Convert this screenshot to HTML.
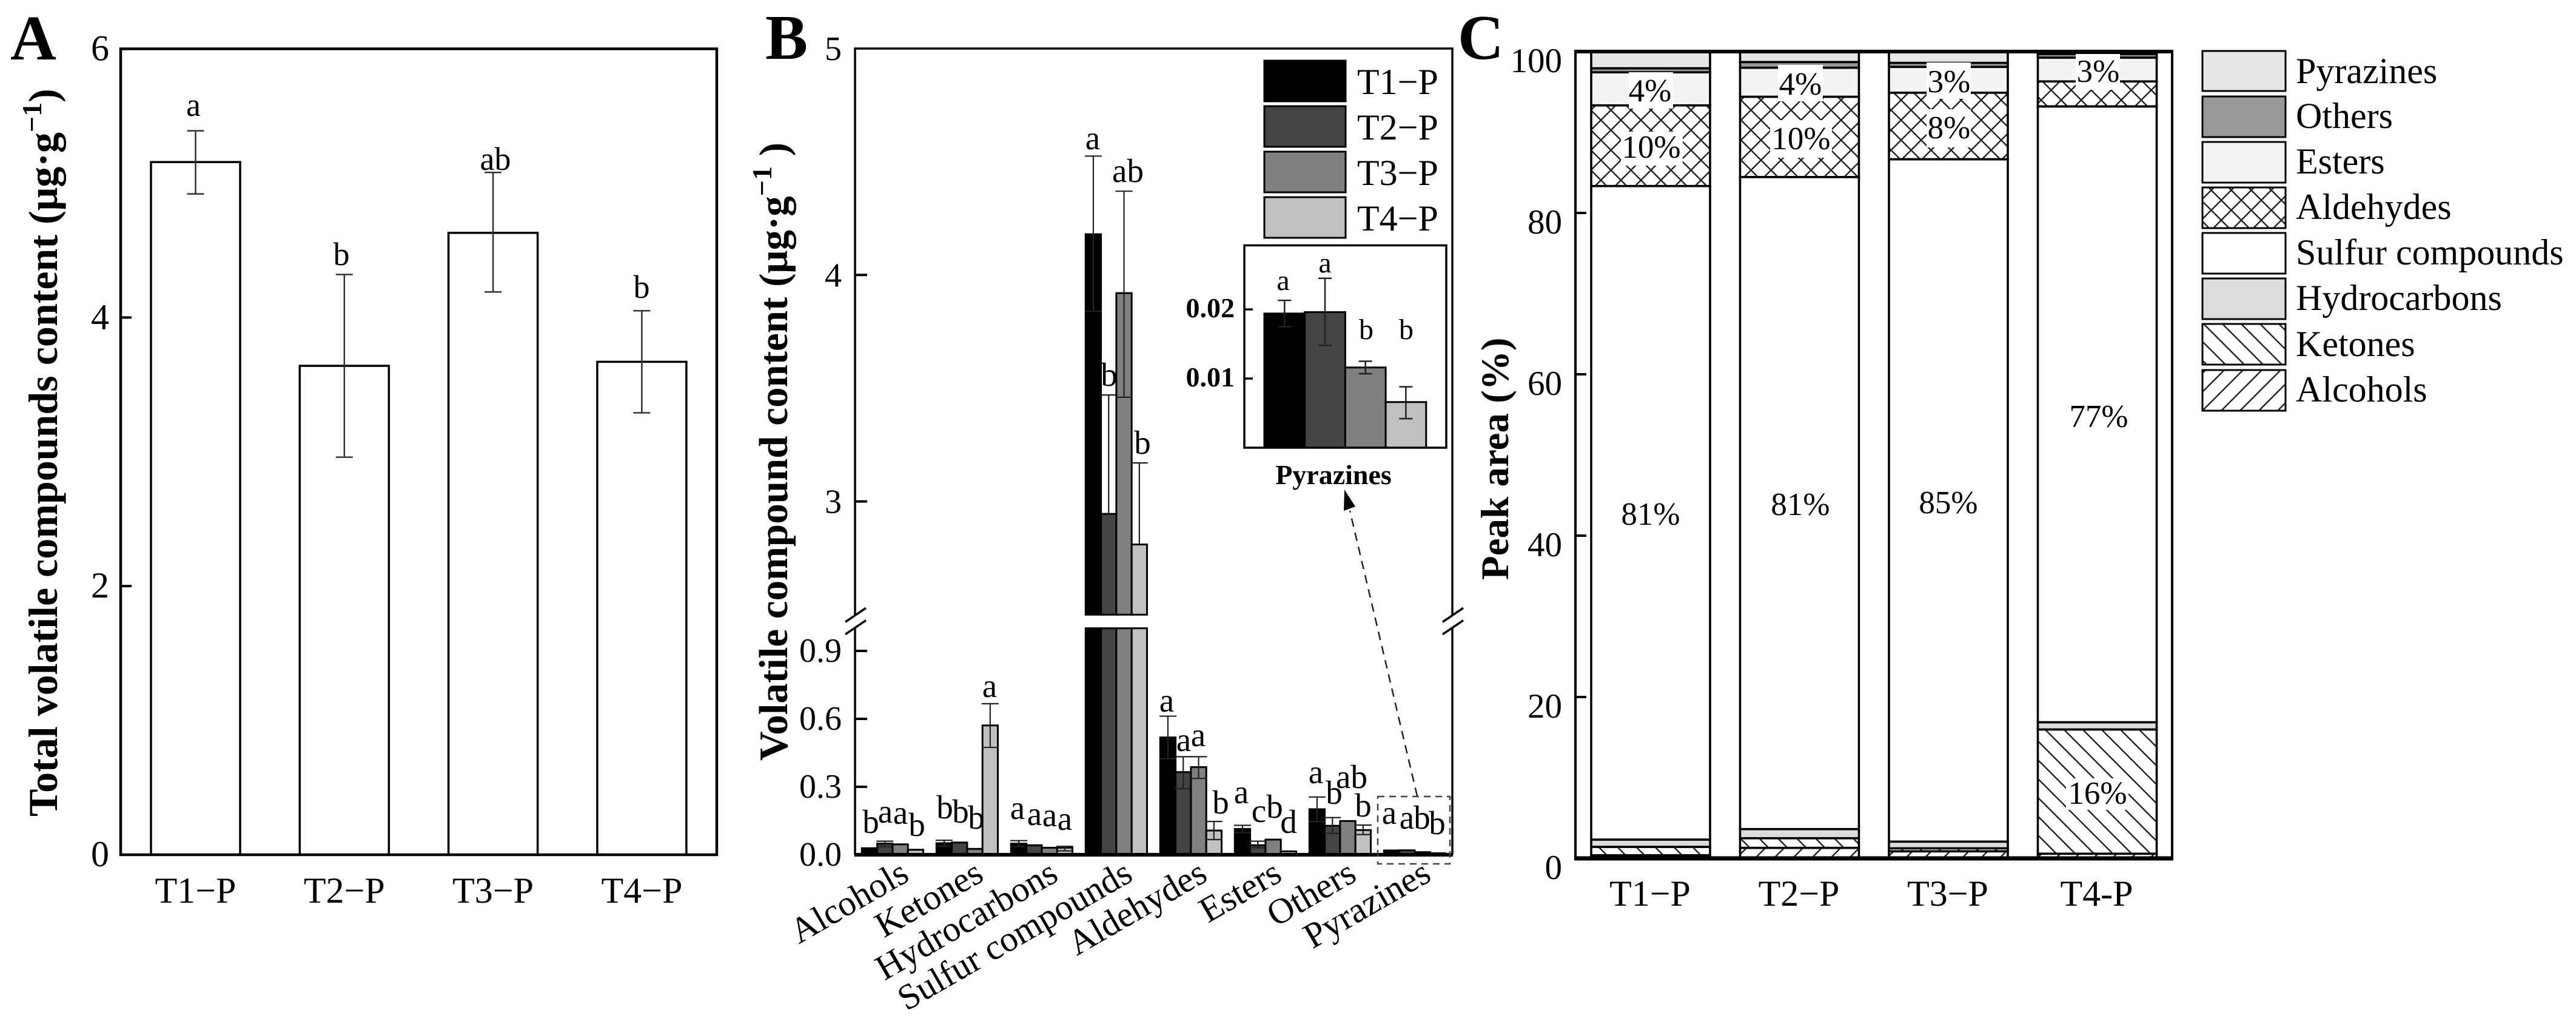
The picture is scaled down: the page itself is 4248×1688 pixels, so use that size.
<!DOCTYPE html>
<html lang="en">
<head>
<meta charset="utf-8">
<title>Volatile compounds by treatment</title>
<style>
html,body{margin:0;padding:0;background:#fff;}
svg{display:block;font-family:"Liberation Serif",serif;}
text{fill:#000;}
</style>
</head>
<body>
<svg id="figure" xmlns="http://www.w3.org/2000/svg" width="4248" height="1688" viewBox="0 0 4248 1688">
<defs>
<pattern id="hatch-cross" patternUnits="userSpaceOnUse" width="33" height="33">
<path d="M0 0L33 33M33 0L0 33" stroke="#222" stroke-width="2.4" fill="none"/>
</pattern>
<pattern id="hatch-back" patternUnits="userSpaceOnUse" width="31" height="31">
<path d="M-4 -4L35 35M-4 27L4 35M27 -4L35 4" stroke="#222" stroke-width="2.4" fill="none"/>
</pattern>
<pattern id="hatch-fwd" patternUnits="userSpaceOnUse" width="31" height="31">
<path d="M35 -4L-4 35M4 -4L-4 4M35 27L27 35" stroke="#222" stroke-width="2.4" fill="none"/>
</pattern>
</defs>
<rect width="4248" height="1688" fill="#fff"/>

<text x="17" y="98" font-size="105" font-weight="bold">A</text>
<text x="1262" y="97" font-size="105" font-weight="bold">B</text>
<text x="2404" y="97" font-size="105" font-weight="bold">C</text>

<g id="panel-a"></g>
<text transform="translate(94,1346) rotate(-90)" font-size="68" font-weight="bold">Total volatile compounds content (μg·g<tspan dy="-26" font-size="46">−1</tspan><tspan dy="26">)</tspan></text>
<g font-size="54" text-anchor="middle">
<text x="319" y="191">a</text>
<text x="563" y="437">b</text>
<text x="817" y="280">ab</text>
<text x="1058" y="491">b</text>
</g>

<g id="panel-b"></g>
<text transform="translate(1298,1254) rotate(-90)" font-size="67" font-weight="bold">Volatile compound content (μg·g<tspan dy="-26" font-size="46">−1</tspan><tspan dy="26"> )</tspan></text>
<g font-size="55" text-anchor="middle">
<text x="1436" y="1373">b</text>
<text x="1460" y="1356">a</text>
<text x="1485" y="1358">a</text>
<text x="1512" y="1378">b</text>
<text x="1558" y="1349">b</text>
<text x="1584" y="1356">b</text>
<text x="1610" y="1366">b</text>
<text x="1632" y="1149">a</text>
<text x="1678" y="1350">a</text>
<text x="1706" y="1360">a</text>
<text x="1731" y="1362">a</text>
<text x="1756" y="1368">a</text>
<text x="1802" y="246">a</text>
<text x="1829" y="636">b</text>
<text x="1860" y="300">ab</text>
<text x="1884" y="748">b</text>
<text x="1924" y="1173">a</text>
<text x="1952" y="1238">a</text>
<text x="1976" y="1230">a</text>
<text x="2013" y="1341">b</text>
<text x="2047" y="1324">a</text>
<text x="2076" y="1355">c</text>
<text x="2102" y="1348">b</text>
<text x="2125" y="1373">d</text>
<text x="2170" y="1291">a</text>
<text x="2200" y="1325">b</text>
<text x="2229" y="1299">ab</text>
<text x="2248" y="1346">b</text>
<text x="2291" y="1358">a</text>
<text x="2320" y="1366">a</text>
<text x="2345" y="1366">b</text>
<text x="2370" y="1375">b</text>
</g>
<rect x="2272" y="1313" width="119" height="111" fill="none" stroke="#444" stroke-width="2.5" stroke-dasharray="11 8"/>
<path d="M2337 1312L2226 842" stroke="#222" stroke-width="2.5" stroke-dasharray="14 10" fill="none"/>
<path d="M2217 807L2216 842L2235 835Z" fill="#000"/>

<g font-size="60">
<rect x="2085" y="100" width="134" height="67" fill="#000" stroke="#000" stroke-width="3"/>
<rect x="2085" y="175" width="134" height="67" fill="#444" stroke="#000" stroke-width="3"/>
<rect x="2085" y="250" width="134" height="67" fill="#808080" stroke="#000" stroke-width="3"/>
<rect x="2085" y="325" width="134" height="67" fill="#c0c0c0" stroke="#000" stroke-width="3"/>
<text x="2238" y="155">T1−P</text>
<text x="2238" y="230">T2−P</text>
<text x="2238" y="305">T3−P</text>
<text x="2238" y="380">T4−P</text>
</g>

<g id="inset"></g>
<g font-size="48" text-anchor="middle">
<text x="2116" y="478">a</text>
<text x="2185" y="449">a</text>
<text x="2253" y="559">b</text>
<text x="2319" y="559">b</text>
</g>
<text x="2199" y="798" font-size="46" font-weight="bold" text-anchor="middle">Pyrazines</text>

<g id="panel-c"></g>
<text transform="translate(2487,956) rotate(-90)" font-size="65" font-weight="bold">Peak area (%)</text>
<g font-size="53" text-anchor="middle">
<rect x="2686" y="119" width="73" height="60" fill="#fff"/>
<rect x="2673" y="217" width="102" height="56" fill="#fff"/>
<rect x="2932" y="107" width="74" height="60" fill="#fff"/>
<rect x="2919" y="198" width="102" height="62" fill="#fff"/>
<rect x="3177" y="103" width="73" height="60" fill="#fff"/>
<rect x="3177" y="180" width="73" height="63" fill="#fff"/>
<rect x="3423" y="89" width="73" height="59" fill="#fff"/>
<rect x="3407" y="1283" width="103" height="52" fill="#fff"/>
<text x="2721" y="167">4%</text>
<text x="2723" y="260">10%</text>
<text x="2722" y="865">81%</text>
<text x="2969" y="156">4%</text>
<text x="2970" y="246">10%</text>
<text x="2969" y="849">81%</text>
<text x="3214" y="152">3%</text>
<text x="3214" y="228">8%</text>
<text x="3213" y="846">85%</text>
<text x="3460" y="135">3%</text>
<text x="3461" y="704">77%</text>
<text x="3459" y="1325">16%</text>
</g>

<g font-size="60">
<rect x="3632" y="84" width="137" height="66" fill="#e6e6e6" stroke="#000" stroke-width="3"/>
<rect x="3632" y="159" width="137" height="67" fill="#999" stroke="#000" stroke-width="3"/>
<rect x="3632" y="234" width="137" height="67" fill="#f4f4f4" stroke="#000" stroke-width="3"/>
<rect x="3632" y="309" width="137" height="67" fill="url(#hatch-cross)" stroke="#000" stroke-width="3"/>
<rect x="3632" y="384" width="137" height="67" fill="#fff" stroke="#000" stroke-width="3"/>
<rect x="3632" y="459" width="137" height="67" fill="#dcdcdc" stroke="#000" stroke-width="3"/>
<rect x="3632" y="534" width="137" height="67" fill="url(#hatch-back)" stroke="#000" stroke-width="3"/>
<rect x="3632" y="610" width="137" height="67" fill="url(#hatch-fwd)" stroke="#000" stroke-width="3"/>
<text x="3786" y="137">Pyrazines</text>
<text x="3786" y="211">Others</text>
<text x="3786" y="286">Esters</text>
<text x="3786" y="361">Aldehydes</text>
<text x="3786" y="436">Sulfur compounds</text>
<text x="3786" y="511">Hydrocarbons</text>
<text x="3786" y="587">Ketones</text>
<text x="3786" y="662">Alcohols</text>
</g>
</svg>

<script>
// ---------- Panel A data ----------
const aCategories = ['T1−P', 'T2−P', 'T3−P', 'T4−P'];
const aValues = [5.157, 3.64, 4.63, 3.67];
const aErrHigh = [5.39, 4.32, 5.08, 4.05];
const aErrLow = [4.92, 2.96, 4.19, 3.29];
const aTicks = [0, 2, 4, 6];

// ---------- Panel B data ----------
const bCategories = ['Alcohols', 'Ketones', 'Hydrocarbons', 'Sulfur compounds', 'Aldehydes', 'Esters', 'Others', 'Pyrazines'];
const bSeriesNames = ['T1-P', 'T2-P', 'T3-P', 'T4-P'];
const bT1 = [0.029, 0.051, 0.049, 4.18, 0.518, 0.114, 0.201, 0.019];
const bT2 = [0.049, 0.054, 0.042, 2.945, 0.365, 0.042, 0.128, 0.0196];
const bT3 = [0.046, 0.026, 0.031, 3.92, 0.387, 0.067, 0.149, 0.0116];
const bT4 = [0.022, 0.571, 0.031, 2.81, 0.107, 0.015, 0.109, 0.0066];
const bT1High = [null, 0.064, 0.0625, 4.525, 0.612, 0.13, 0.255, null];
const bT2High = [0.06, null, null, 3.47, 0.433, 0.06, 0.164, null];
const bT3High = [null, null, null, 4.37, 0.433, null, null, null];
const bT4High = [null, 0.667, 0.037, 3.17, 0.147, null, 0.131, null];
const bT1Low = [null, 0.038, 0.036, 3.84, 0.424, 0.098, 0.147, null];
const bT2Low = [0.036, null, null, null, 0.292, 0.031, 0.094, null];
const bT3Low = [null, null, null, 3.46, 0.337, null, null, null];
const bT4Low = [null, 0.474, 0.017, null, 0.067, null, 0.089, null];
const bLowerTicks = ['0.0', '0.3', '0.6', '0.9'];
const bUpperTicks = ['3', '4', '5'];

// ---------- Inset data ----------
const insetValues = [0.0194, 0.0196, 0.0116, 0.0066];
const insetHigh = [0.0213, 0.0245, 0.0125, 0.0088];
const insetLow = [0.0175, 0.0148, 0.0107, 0.0042];
const insetTicks = ['0.01', '0.02'];

// ---------- Panel C data ----------
const cCategories = ['T1−P', 'T2−P', 'T3−P', 'T4-P'];
const cAlcohols = [0.38, 1.3, 0.88, 0.58];
const cKetones = [1.05, 1.2, 0.37, 15.4];
const cHydrocarbons = [0.9, 1.13, 0.83, 0.9];
const cSulfur = [81, 80.82, 84.57, 76.32];
const cAldehydes = [10, 9.95, 8.25, 3.1];
const cEsters = [4.1, 3.6, 3.2, 2.95];
const cOthers = [0.5, 0.7, 0.5, 0.45];
const cPyrazines = [2.07, 1.3, 1.4, 0.3];
const cTicks = [0, 20, 40, 60, 80, 100];

const NS = 'http://www.w3.org/2000/svg';

function mk(parent, tag, name, props) {
  const el = document.createElementNS(NS, tag);
  
  
  for (const k in props) el.setAttribute(k, props[k]);
  parent.appendChild(el);
  return el;
}
function label(parent, name, str, props) {
  const el = mk(parent, 'text', name, props);
  el.textContent = str;
  return el;
}
function errorBar(parent, name, x, yHigh, yLow, cap, color, width) {
  let d = 'M' + x + ' ' + yHigh + 'L' + x + ' ' + yLow;
  d += 'M' + (x - cap) + ' ' + yHigh + 'L' + (x + cap) + ' ' + yHigh;
  d += 'M' + (x - cap) + ' ' + yLow + 'L' + (x + cap) + ' ' + yLow;
  mk(parent, 'path', name, { d: d, stroke: color, 'stroke-width': width, fill: 'none' });
}

// ================= Panel A =================
(function () {
  const g = document.getElementById('panel-a');
  const L = 199, R = 1182, T = 80.5, B = 1409;
  const y = v => B - v * (B - T) / 6;
  const x = i => 322.5 + 245.3 * i;
  const bw = 147;
  aValues.forEach((v, i) => {
    mk(g, 'rect', 'bar-' + aCategories[i], { x: x(i) - bw / 2, y: y(v), width: bw, height: B - y(v), fill: '#fff', stroke: '#000', 'stroke-width': 3.5 });
    errorBar(g, 'error-bar-' + aCategories[i], x(i), y(aErrHigh[i]), y(aErrLow[i]), 14, '#333', 2.5);
    label(g, 'x-tick-label', aCategories[i], { x: x(i), y: 1488, 'font-size': 60, 'text-anchor': 'middle' });
  });
  aTicks.forEach(t => {
    mk(g, 'path', 'y-tick', { d: 'M' + L + ' ' + y(t) + 'L' + (L + 18) + ' ' + y(t), stroke: '#000', 'stroke-width': 4 });
    label(g, 'y-tick-label', String(t), { x: 180, y: y(t) + 19, 'font-size': 60, 'text-anchor': 'end' });
  });
  mk(g, 'rect', 'plot-frame', { x: L, y: T, width: R - L, height: B - T, fill: 'none', stroke: '#000', 'stroke-width': 4.5 });
})();

// ================= Panel B =================
(function () {
  const g = document.getElementById('panel-b');
  const L = 1410, R = 2395, T = 80, B = 1409;
  const perUnit = 373.3;
  const breakLow = 1.0, breakHigh = 2.5;
  const yLow = v => B - v * perUnit;
  const yHigh = v => T + (5 - v) * perUnit;
  const y = v => (v <= breakLow ? yLow(v) : yHigh(v));
  const groupX = i => 1421.3 + 123 * i;
  const barW = 25.3;
  const fills = ['#000', '#444', '#808080', '#c0c0c0'];
  const series = [bT1, bT2, bT3, bT4];
  const highs = [bT1High, bT2High, bT3High, bT4High];
  const lows = [bT1Low, bT2Low, bT3Low, bT4Low];

  bCategories.forEach((cat, i) => {
    series.forEach((vals, s) => {
      const v = vals[i];
      const bx = groupX(i) + barW * s;
      const nm = 'bar-' + cat.toLowerCase().replace(' ', '-') + '-' + bSeriesNames[s];
      const style = { fill: fills[s], stroke: '#000', 'stroke-width': 3 };
      if (v > breakLow) {
        mk(g, 'rect', nm + '-lower', Object.assign({ x: bx, y: yLow(breakLow), width: barW, height: B - yLow(breakLow) }, style));
        mk(g, 'rect', nm + '-upper', Object.assign({ x: bx, y: yHigh(v), width: barW, height: yHigh(breakHigh) - yHigh(v) }, style));
      } else {
        mk(g, 'rect', nm, Object.assign({ x: bx, y: yLow(v), width: barW, height: B - yLow(v) }, style));
      }
      const hi = highs[s][i], lo = lows[s][i];
      if (hi !== null) {
        const cx = bx + barW / 2;
        const yh = y(hi);
        const yl = lo !== null ? y(lo) : y(v);
        let d = 'M' + cx + ' ' + yh + 'L' + cx + ' ' + yl + 'M' + (cx - 14) + ' ' + yh + 'L' + (cx + 14) + ' ' + yh;
        if (lo !== null) d += 'M' + (cx - 14) + ' ' + yl + 'L' + (cx + 14) + ' ' + yl;
        mk(g, 'path', 'error-' + nm, { d: d, stroke: '#222', 'stroke-width': 2.2, fill: 'none' });
      }
    });
    label(g, 'x-tick-label-' + cat.toLowerCase().replace(' ', '-'), cat, {
      transform: 'translate(' + (1502 + 123 * i) + ',1450) rotate(-30)',
      'font-size': 59, 'text-anchor': 'end'
    });
  });

  const yBreakTop = yHigh(breakHigh), yBreakBottom = yLow(breakLow);
  const frame = 'M' + L + ' ' + yBreakTop + 'L' + L + ' ' + T + 'L' + R + ' ' + T + 'L' + R + ' ' + yBreakTop +
    'M' + L + ' ' + yBreakBottom + 'L' + L + ' ' + B + 'M' + R + ' ' + yBreakBottom + 'L' + R + ' ' + B;
  mk(g, 'path', 'plot-frame', { d: frame, stroke: '#000', 'stroke-width': 3.5, fill: 'none' });
  mk(g, 'path', 'x-axis-line', { d: 'M' + (L - 1) + ' ' + B + 'L' + (R + 1) + ' ' + B, stroke: '#000', 'stroke-width': 6 });
  [L, R].forEach(ax => {
    const bd = 'M' + (ax - 16) + ' ' + (yBreakTop + 12) + 'L' + (ax + 18) + ' ' + (yBreakTop - 11) +
      'M' + (ax - 16) + ' ' + (yBreakBottom + 10) + 'L' + (ax + 18) + ' ' + (yBreakBottom - 13);
    mk(g, 'path', 'axis-break-mark', { d: bd, stroke: '#000', 'stroke-width': 3.5, fill: 'none' });
  });
  bLowerTicks.forEach(t => {
    const yy = yLow(parseFloat(t));
    if (parseFloat(t) > 0) mk(g, 'path', 'y-tick', { d: 'M' + L + ' ' + yy + 'L' + (L + 20) + ' ' + yy, stroke: '#000', 'stroke-width': 4 });
    label(g, 'y-tick-label', t, { x: 1388, y: yy + 18, 'font-size': 56, 'text-anchor': 'end' });
  });
  bUpperTicks.forEach(t => {
    const yy = yHigh(parseFloat(t));
    if (parseFloat(t) < 5) mk(g, 'path', 'y-tick', { d: 'M' + L + ' ' + yy + 'L' + (L + 20) + ' ' + yy, stroke: '#000', 'stroke-width': 4 });
    label(g, 'y-tick-label', t, { x: 1388, y: yy + 19, 'font-size': 56, 'text-anchor': 'end' });
  });
})();

// ================= Inset =================
(function () {
  const g = document.getElementById('inset');
  const L = 2052, R = 2385, T = 404.5, B = 738;
  const y = v => B - v * 11400;
  const x = i => 2085 + 66.7 * i;
  const fills = ['#000', '#444', '#808080', '#c0c0c0'];
  insetValues.forEach((v, i) => {
    mk(g, 'rect', 'inset-bar-' + bSeriesNames[i], { x: x(i), y: y(v), width: 66.7, height: B - y(v), fill: fills[i], stroke: '#000', 'stroke-width': 3 });
    errorBar(g, 'inset-error-' + bSeriesNames[i], x(i) + 33.3, y(insetHigh[i]), y(insetLow[i]), 11, '#222', 2.5);
  });
  insetTicks.forEach(t => {
    const yy = y(parseFloat(t));
    mk(g, 'path', 'inset-y-tick', { d: 'M' + L + ' ' + yy + 'L' + (L + 14) + ' ' + yy, stroke: '#000', 'stroke-width': 3.5 });
    label(g, 'inset-y-tick-label', t, { x: 2036, y: yy + 13, 'font-size': 46, 'font-weight': 'bold', 'text-anchor': 'end' });
  });
  mk(g, 'rect', 'inset-frame', { x: L, y: T, width: R - L, height: B - T, fill: 'none', stroke: '#000', 'stroke-width': 3.5 });
})();

// ================= Panel C =================
(function () {
  const g = document.getElementById('panel-c');
  const L = 2598, R = 3582, T = 85, B = 1415;
  const y = v => B - v * (B - T) / 100;
  const x = i => 2624 + 245.5 * i;
  const bw = 196;
  const layers = [
    ['alcohols', cAlcohols, 'url(#hatch-fwd)'],
    ['ketones', cKetones, 'url(#hatch-back)'],
    ['hydrocarbons', cHydrocarbons, '#dcdcdc'],
    ['sulfur-compounds', cSulfur, '#fff'],
    ['aldehydes', cAldehydes, 'url(#hatch-cross)'],
    ['esters', cEsters, '#f4f4f4'],
    ['others', cOthers, '#999'],
    ['pyrazines', cPyrazines, '#e6e6e6']
  ];
  cCategories.forEach((cat, i) => {
    let cum = 0;
    layers.forEach(l => {
      const v = l[1][i];
      mk(g, 'rect', 'stack-' + l[0] + '-' + cat, { x: x(i), y: y(cum + v), width: bw, height: y(cum) - y(cum + v), fill: l[2], stroke: '#000', 'stroke-width': 3.6 });
      cum += v;
    });
    label(g, 'x-tick-label', cat, { x: x(i) + 97, y: 1493, 'font-size': 60, 'text-anchor': 'middle' });
  });
  cTicks.forEach(t => {
    mk(g, 'path', 'y-tick', { d: 'M' + L + ' ' + y(t) + 'L' + (L + 18) + ' ' + y(t), stroke: '#000', 'stroke-width': 4 });
    label(g, 'y-tick-label', String(t), { x: 2576, y: y(t) + 34, 'font-size': 57, 'text-anchor': 'end' });
  });
  mk(g, 'path', 'plot-frame', { d: 'M' + L + ' ' + B + 'L' + L + ' ' + T + 'L' + R + ' ' + T + 'L' + R + ' ' + B, stroke: '#000', 'stroke-width': 4, fill: 'none' });
  mk(g, 'path', 'top-axis-line', { d: 'M' + (L - 2) + ' ' + T + 'L' + (R + 2) + ' ' + T, stroke: '#000', 'stroke-width': 6 });
  mk(g, 'path', 'x-axis-line', { d: 'M' + (L - 2) + ' ' + B + 'L' + (R + 2) + ' ' + B, stroke: '#000', 'stroke-width': 7 });
})();
</script>
</body>
</html>
